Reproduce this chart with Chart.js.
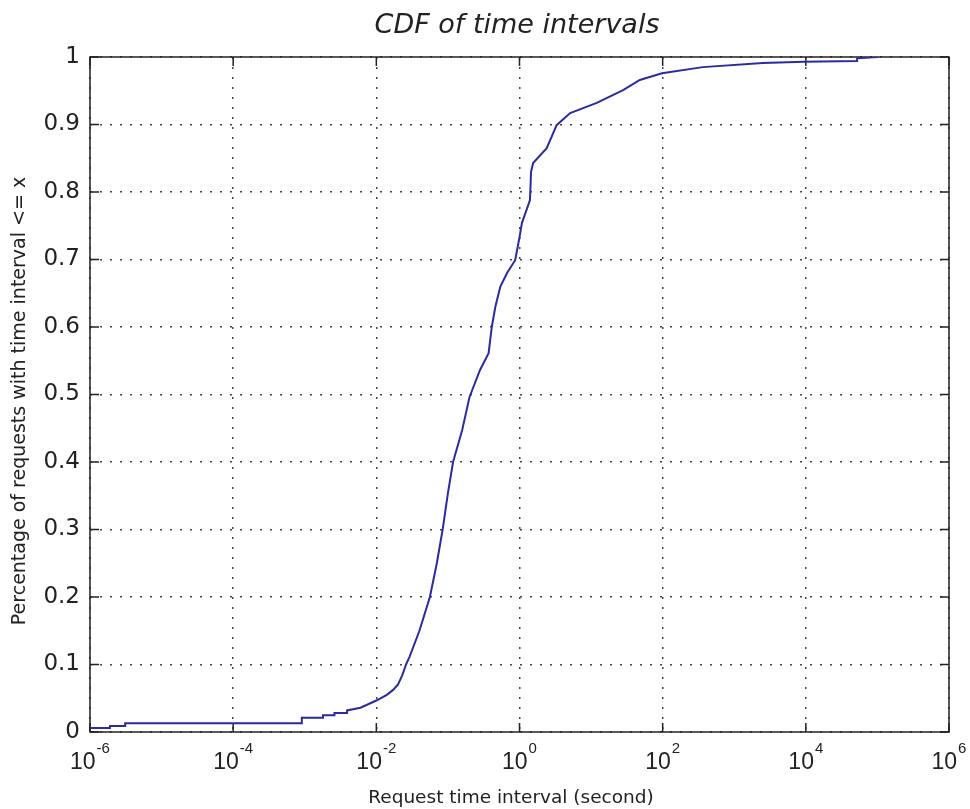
<!DOCTYPE html>
<html>
<head>
<meta charset="utf-8">
<title>CDF of time intervals</title>
<script src="https://cdn.jsdelivr.net/npm/chart.js@4/dist/chart.umd.min.js"></script>
<style>
  html, body { margin: 0; padding: 0; background: #fff; }
  #cdf { display: block; }
</style>
</head>
<body>
<canvas id="cdf" width="970" height="809"></canvas>
<script>
"use strict";

// request time interval (s) and cumulative fraction of requests
var intervalSeconds = [
    1e-6, 1.9e-6, 1.9e-6, 3.1e-6, 3.1e-6, 9.1e-4, 9.1e-4, 1.8e-3, 1.8e-3, 2.6e-3,
    2.6e-3, 3.9e-3, 3.9e-3, 6e-3, 1.02e-2, 0.014, 0.017, 0.02, 0.023, 0.026,
    0.029, 0.04, 0.056, 0.07, 0.085, 0.1, 0.118, 0.158, 0.2, 0.28,
    0.37, 0.41, 0.46, 0.54, 0.67, 0.87, 1.0, 1.08, 1.4, 1.45,
    1.55, 2.4, 3.3, 5.1, 12, 28, 48, 98, 363, 2500,
    9300, 52000, 52000, 1.02e5
];
var cdfValues = [
    0.006, 0.006, 0.009, 0.009, 0.013, 0.013, 0.021, 0.021, 0.025, 0.025,
    0.028, 0.028, 0.032, 0.036, 0.047, 0.055, 0.062, 0.07, 0.084, 0.1,
    0.111, 0.15, 0.2, 0.25, 0.302, 0.354, 0.4, 0.447, 0.496, 0.536,
    0.561, 0.6, 0.63, 0.66, 0.68, 0.699, 0.733, 0.754, 0.788, 0.83,
    0.843, 0.865, 0.899, 0.917, 0.932, 0.951, 0.966, 0.976, 0.985, 0.991,
    0.993, 0.994, 0.998, 1.0
];

// x ticks every two decades, y ticks every 0.1
var xTickExponents = [-6, -4, -2, 0, 2, 4, 6];
var yTickValues = [0, 0.1, 0.2, 0.3, 0.4, 0.5, 0.6, 0.7, 0.8, 0.9, 1];

var chartTitle = 'CDF of time intervals';
var xAxisLabel = 'Request time interval (second)';
var yAxisLabel = 'Percentage of requests with time interval <= x';

var points = intervalSeconds.map(function(x, i) {
    return { x: x, y: cdfValues[i] };
});

var textColor = '#222';
var dejavu = '"DejaVu Sans", Verdana, sans-serif';
var liberation = '"Liberation Sans", Arial, sans-serif';

// plot box, inward tick marks, 10^n labels and titles
var matlabFrame = {
    id: 'matlabFrame',
    beforeDatasetsDraw: function(chart) {
        var ctx = chart.ctx, a = chart.chartArea;
        var xs = chart.scales.x, ys = chart.scales.y;
        var len = 9;
        ctx.save();
        ctx.strokeStyle = '#222';
        ctx.lineWidth = 1.5;
        ctx.strokeRect(a.left, a.top, a.right - a.left, a.bottom - a.top);
        ctx.beginPath();
        xs.ticks.forEach(function(t) {
            var px = xs.getPixelForValue(t.value);
            ctx.moveTo(px, a.bottom); ctx.lineTo(px, a.bottom - len);
            ctx.moveTo(px, a.top); ctx.lineTo(px, a.top + len);
        });
        ys.ticks.forEach(function(t) {
            var py = ys.getPixelForValue(t.value);
            ctx.moveTo(a.left, py); ctx.lineTo(a.left + len, py);
            ctx.moveTo(a.right, py); ctx.lineTo(a.right - len, py);
        });
        ctx.stroke();
        ctx.restore();
    },
    afterDraw: function(chart) {
        var ctx = chart.ctx, xs = chart.scales.x;
        var baseFont = '23px ' + liberation;
        var expFont = '15px ' + liberation;
        ctx.save();
        ctx.fillStyle = textColor;
        ctx.textBaseline = 'middle';
        ctx.textAlign = 'left';
        xTickExponents.forEach(function(e) {
            var px = xs.getPixelForValue(Math.pow(10, e));
            var expText = String(e);
            ctx.font = baseFont;
            var wb = ctx.measureText('10').width;
            ctx.font = expFont;
            var we = ctx.measureText(expText).width;
            var start = px - (wb + we + 1) / 2;
            ctx.font = baseFont;
            ctx.fillText('10', start, 763);
            ctx.font = expFont;
            ctx.fillText(expText, start + wb + 1, 749);
        });

        ctx.textAlign = 'center';
        ctx.font = 'italic 27px ' + dejavu;
        ctx.fillText(chartTitle, 517, 26);

        ctx.font = '18.5px ' + dejavu;
        ctx.fillText(xAxisLabel, 511, 798);

        ctx.translate(20, 401);
        ctx.rotate(-Math.PI / 2);
        ctx.font = '19px ' + dejavu;
        ctx.fillText(yAxisLabel, 0, 0);
        ctx.restore();
    }
};

var chart = new Chart(document.getElementById('cdf'), {
    type: 'line',
    data: {
        datasets: [{
            data: points,
            borderColor: '#2b2ba0',
            borderWidth: 2,
            pointRadius: 0,
            tension: 0,
            fill: false
        }]
    },
    options: {
        responsive: false,
        animation: false,
        layout: { padding: { top: 57, right: 21, bottom: 0, left: 0 } },
        plugins: {
            legend: { display: false },
            tooltip: { enabled: false },
            title: { display: false }
        },
        scales: {
            x: {
                type: 'logarithmic',
                min: 1e-6,
                max: 1e6,
                afterBuildTicks: function(scale) {
                    scale.ticks = xTickExponents.map(function(e) {
                        return { value: Math.pow(10, e) };
                    });
                },
                afterFit: function(scale) { scale.height = 77; },
                ticks: { display: false },
                grid: { color: '#444', lineWidth: 1.5, drawTicks: false },
                border: { display: false, dash: [2, 8] }
            },
            y: {
                min: 0,
                max: 1,
                afterBuildTicks: function(scale) {
                    scale.ticks = yTickValues.map(function(v) { return { value: v }; });
                },
                afterFit: function(scale) { scale.width = 90; },
                ticks: {
                    color: textColor,
                    padding: 10,
                    font: { family: dejavu, size: 23 },
                    callback: function(v) { return String(Number(v.toFixed(1))); }
                },
                grid: { color: '#444', lineWidth: 1.5, drawTicks: false },
                border: { display: false, dash: [2, 8] }
            }
        }
    },
    plugins: [matlabFrame]
});
</script>
</body>
</html>
